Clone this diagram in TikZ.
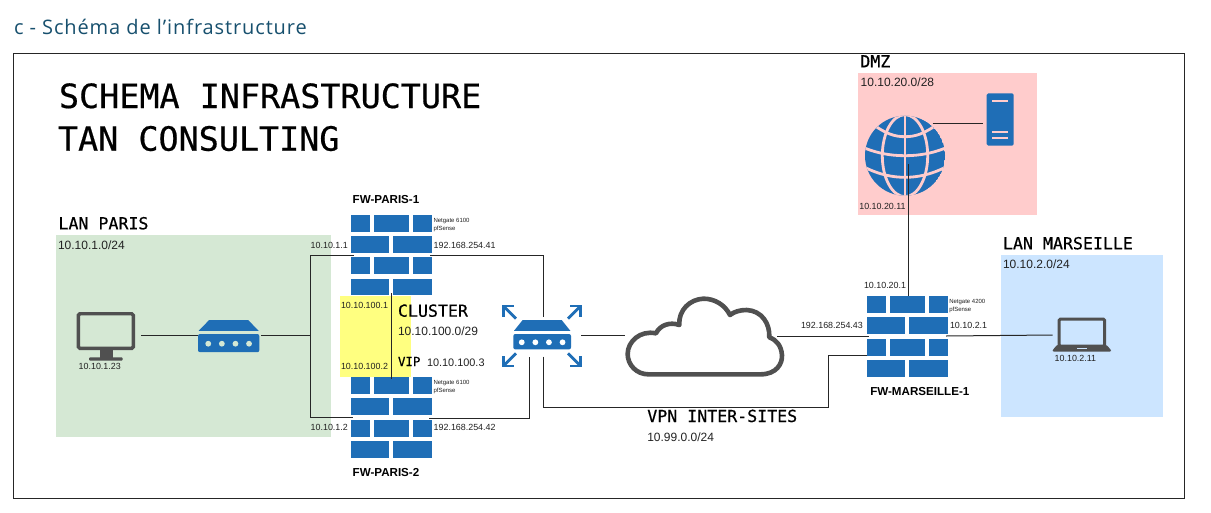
\documentclass[tikz,border=0pt]{standalone}
\usepackage{fontspec}
\setmainfont{Liberation Sans}
\newfontfamily\monof[FakeBold=0.5]{DejaVu Sans Mono}
\newfontfamily\headf[LetterSpace=4.5]{Open Sans}
\definecolor{ibm}{HTML}{1F6EB6}
\definecolor{igrey}{HTML}{505050}
\definecolor{txtc}{HTML}{222222}
\definecolor{headc}{HTML}{17506E}
\definecolor{lang}{HTML}{D5E8D4}
\definecolor{dmzc}{HTML}{FFCCCC}
\definecolor{lanb}{HTML}{CCE5FF}
\definecolor{vipc}{HTML}{FFFF80}
\newcommand{\fsz}[1]{\fontsize{#1}{#1}\selectfont}
\tikzset{
  lbl/.style={anchor=base west,inner sep=0pt,outer sep=0pt,text=txtc},
  ip/.style={lbl,font=\fsz{8.9}},
  net/.style={lbl,font=\fsz{12}},
  tiny/.style={lbl,font=\fsz{6}},
  fwname/.style={lbl,font=\bfseries\fsz{11.6},text=black},
  zone/.style={lbl,font=\monof\fsz{16.6},text=black},
  bigtitle/.style={lbl,font=\monof\fsz{33.4},text=black},
  link/.style={draw=black!85,line width=1pt},
  brick/.style={fill=ibm,draw=none},
  box/.style={inner sep=0pt,outer sep=0pt,minimum width=#1},
  arrowbar/.style={draw=ibm,line width=2.8pt,miter limit=10},
}
\newcommand{\firewall}[2]{%
  \begin{scope}[shift={(#1,#2)}]
    \foreach \yy in {0,42.7}{%
      \fill[brick] (0,\yy) rectangle (19.3,\yy+16.8);
      \fill[brick] (23,\yy) rectangle (58,\yy+16.8);
      \fill[brick] (62,\yy) rectangle (81.3,\yy+16.8);
      \fill[brick] (0,\yy+21.3) rectangle (38.6,\yy+38);
      \fill[brick] (42.6,\yy+21.3) rectangle (81.3,\yy+38);
    }
  \end{scope}}
\newcommand{\switchbox}[5]{% x y of body left, body top, width, height, dot colour
  \begin{scope}[shift={(#1,#2)}]
    \fill[ibm] (0.7,-3.2) -- (#3/2-19.5,-14) -- (#3/2+19.5,-14) -- (#3-0.7,-3.2) -- cycle;
    \fill[ibm,rounded corners=2pt] (0,0) rectangle (#3,#4);
    \foreach \dd in {-1.5,-0.5,0.5,1.5}
      \fill[#5] ({#3/2+\dd*13.6},{#4/2+0.6}) circle (2.9);
  \end{scope}}
\begin{document}
\begin{tikzpicture}[x=1pt,y=-1pt]
\useasboundingbox (0,0) rectangle (1211,512);
\fill[white] (0,0) rectangle (1211,512);
% zones
\node[lbl,font=\headf\fsz{20},text=headc] (heading) at (14,34) {c - Schéma de l’infrastructure};
\draw[black!85,line width=1pt] (13.5,53) rectangle (1184,498);
\fill[lang] (56,235) rectangle (330.5,437);
\fill[dmzc] (858.3,72.7) rectangle (1037.3,214.7);
\fill[lanb] (1000.7,255.3) rectangle (1163,417.3);
% firewalls
\firewall{350.7}{214.7}
\firewall{350.7}{377}
\firewall{866.7}{296}
\fill[vipc] (340.3,295.7) rectangle (411.3,376.7);
% icon holders
\node[box=58.3pt,minimum height=48.7pt] (monitor) at (105.8,336.3) {};
\node[box=61.3pt,minimum height=31.7pt] (swlan) at (228.7,336.2) {};
\node[box=81.3pt,minimum height=81pt] (fwa) at (391.3,255.2) {};
\node[box=81.3pt,minimum height=81pt] (fwb) at (391.3,417.4) {};
\node[box=81.3pt,minimum height=81pt] (fwc) at (907.3,336.3) {};
\node[box=77.4pt,minimum height=60pt] (router) at (542,336) {};
\node[box=158.3pt,minimum height=79.4pt] (cloud) at (704.8,337) {};
\node[box=80pt,minimum height=80pt] (globe) at (905,155.7) {};
\node[box=27pt,minimum height=52.4pt] (server) at (1000.2,119.5) {};
\node[box=58.3pt,minimum height=34pt] (laptop) at (1081.8,334.7) {};
% ports
\coordinate (monR) at (141.3,335);
\coordinate (swlanL) at (198,335);
\coordinate (swlanR) at (261,335.7);
\coordinate (busM) at (310,335.7);
\coordinate (busT) at (310,255);
\coordinate (busB) at (310,417.3);
\coordinate (fwaL) at (353.7,255);
\coordinate (fwbL) at (353,417.3);
\coordinate (fwaR) at (430,255);
\coordinate (fwbR) at (429,418);
\coordinate (fwaD) at (391,293);
\coordinate (fwbU) at (391,378.5);
\coordinate (rtA) at (543.7,316.7);
\coordinate (rtB) at (529,356.7);
\coordinate (rtC) at (543.5,356.5);
\coordinate (rtR) at (581,335.7);
\coordinate (clL) at (625,335.7);
\coordinate (clR) at (777.3,336);
\coordinate (fwcW) at (868.7,336);
\coordinate (fwcW2) at (867.3,355.3);
\coordinate (fwcE) at (946,336);
\coordinate (lapL) at (1052.7,335);
\coordinate (fwcT) at (908.3,296);
\coordinate (glbB) at (908.3,164);
\coordinate (glbR) at (932.7,123.3);
\coordinate (srvL) at (983.3,123.3);
\coordinate (vpnK) at (828,407);
% monitor
\draw[igrey,line width=3.4pt,rounded corners=1.5pt] (78.4,313.7) rectangle (133.3,348.3);
\fill[igrey] (100,349) rectangle (112.7,358);
\fill[igrey,rounded corners=1pt] (89,357.3) rectangle (122.7,360.7);
% lan switch
\switchbox{198}{334}{61.3}{18.2}{lang}
% central router
\switchbox{513.3}{334}{57.7}{15.4}{white}
\foreach \px/\py/\sx/\sy in {503.3/306/1/1,580.7/306/-1/1,503.3/366/1/-1,580.7/366/-1/-1}{
  \draw[arrowbar] (\px,\py) -- (\px+\sx*12.7,\py+\sy*12.7);
  \draw[arrowbar] (\px+\sx*10.5,\py) -- (\px,\py) -- (\px,\py+\sy*10.5);
}
% cloud
\begin{scope}[shift={(490,280)},x=0.3333pt,y=-0.3333pt]
\draw[igrey,line width=4.6pt,line join=round]
 (475,283) -- (812,283)
 .. controls (860,283) and (878,250) .. (876,225)
 .. controls (874,198) and (860,180) .. (838,172)
 .. controls (840,130) and (815,92) .. (770,90)
 .. controls (750,90) and (733,95) .. (720,105)
 .. controls (705,75) and (675,56) .. (640,56)
 .. controls (600,58) and (565,90) .. (568,135)
 .. controls (540,125) and (510,135) .. (498,160)
 .. controls (450,150) and (413,185) .. (413,222)
 .. controls (413,255) and (440,283) .. (475,283) -- cycle;
\end{scope}
% globe
\begin{scope}
\clip (905,155.7) circle (40);
\fill[ibm] (905,155.7) circle (40);
\begin{scope}[line width=2.8pt]
\draw[dmzc] (905,110) -- (905,200);
\draw[dmzc] (905,155.7) ellipse (22.7 and 41);
\draw[dmzc] (870,122) .. controls (885,134) and (895,136.7) .. (905,136.7) .. controls (915,136.7) and (925,134) .. (940,122);
\draw[dmzc] (860,146) .. controls (875,153) and (890,155.7) .. (905,155.7) .. controls (920,155.7) and (935,153) .. (950,146);
\draw[dmzc] (864,167) .. controls (880,175) and (893,177.3) .. (905,177.3) .. controls (917,177.3) and (930,175) .. (946,167);
\end{scope}
\end{scope}
% server
\fill[ibm,rounded corners=1.5pt] (986.7,93.3) rectangle (1013.7,145.7);
\foreach \yy in {100.7,131.7,138.3}
  \draw[dmzc,line width=1.8pt] (992.3,\yy) -- (1008.3,\yy);
% laptop
\draw[igrey,line width=3pt,rounded corners=1pt] (1059.2,319.2) rectangle (1104.5,346);
\fill[igrey,rounded corners=1pt] (1057,345) -- (1106.5,345) -- (1111,350) -- (1111,351.7) -- (1052.7,351.7) -- (1052.7,350) -- cycle;
\fill[lanb] (1077,347.6) rectangle (1087,349);
% connectors
\draw[link] (monR) -- (swlanL);
\draw[link] (swlanR) -- (busM);
\draw[link] (fwaL) -- (busT) -- (busB) -- (fwbL);
\draw[link] (fwaR) -| (rtA);
\draw[link] (fwbR) -| (rtB);
\draw[link] (fwaD) -- (fwbU);
\draw[link] (rtC) |- (vpnK) |- (fwcW2);
\draw[link] (rtR) -- (clL);
\draw[link] (clR) -- (fwcW);
\draw[link] (fwcE) -- (lapL);
\draw[link] (fwcT) -- (glbB);
\draw[link] (glbR) -- (srvL);
% labels
\node[bigtitle] (t1) at (59,108) {SCHEMA INFRASTRUCTURE};
\node[bigtitle] (t2) at (58,150.7) {TAN CONSULTING};
\node[zone] (zlan) at (58.5,229.3) {LAN PARIS};
\node[net] (nlan) at (58,249) {10.10.1.0/24};
\node[ip] (ipmon) at (78.7,369) {10.10.1.23};
\node[ip] (ip1) at (310.7,248) {10.10.1.1};
\node[fwname] (nfw1) at (352.7,203.3) {FW-PARIS-1};
\node[tiny] (g1) at (433.5,222.3) {Netgate 6100};
\node[tiny] (p1) at (433.5,230.7) {pfSense};
\node[ip] (w1) at (433.7,248) {192.168.254.41};
\node[ip] (c1) at (341,308.3) {10.10.100.1};
\node[ip] (c2) at (341,369) {10.10.100.2};
\node[zone] (zcl) at (398,316.7) {CLUSTER};
\node[net] (ncl) at (398,335) {10.10.100.0/29};
\node[lbl,font=\monof\fsz{12.4},text=black] (vip) at (398,366) {VIP};
\node[lbl,font=\fsz{10.9}] (vipa) at (427,366) {10.10.100.3};
\node[tiny] (g2) at (433.5,384.7) {Netgate 6100};
\node[tiny] (p2) at (433.5,392.7) {pfSense};
\node[ip] (ip2) at (310.7,430) {10.10.1.2};
\node[ip] (w2) at (433.7,430) {192.168.254.42};
\node[fwname] (nfw2) at (352.7,476.7) {FW-PARIS-2};
\node[zone] (zvpn) at (647.3,422) {VPN INTER-SITES};
\node[net] (nvpn) at (647.3,441) {10.99.0.0/24};
\node[zone] (zdmz) at (860.3,67.3) {DMZ};
\node[net] (ndmz) at (860.7,86) {10.10.20.0/28};
\node[ip] (ipdmz) at (859.3,209) {10.10.20.11};
\node[ip] (ipfd) at (864,288.3) {10.10.20.1};
\node[ip] (w3) at (801,328.7) {192.168.254.43};
\node[tiny] (g3) at (949.3,303.3) {Netgate 4200};
\node[tiny] (p3) at (949.3,311.7) {pfSense};
\node[ip] (ipm) at (950,328.7) {10.10.2.1};
\node[fwname] (nfw3) at (870.3,395.3) {FW-MARSEILLE-1};
\node[zone] (zmar) at (1003,249.3) {LAN MARSEILLE};
\node[net] (nmar) at (1003,268.7) {10.10.2.0/24};
\node[ip] (iplap) at (1054.7,361) {10.10.2.11};
\end{tikzpicture}
\end{document}
